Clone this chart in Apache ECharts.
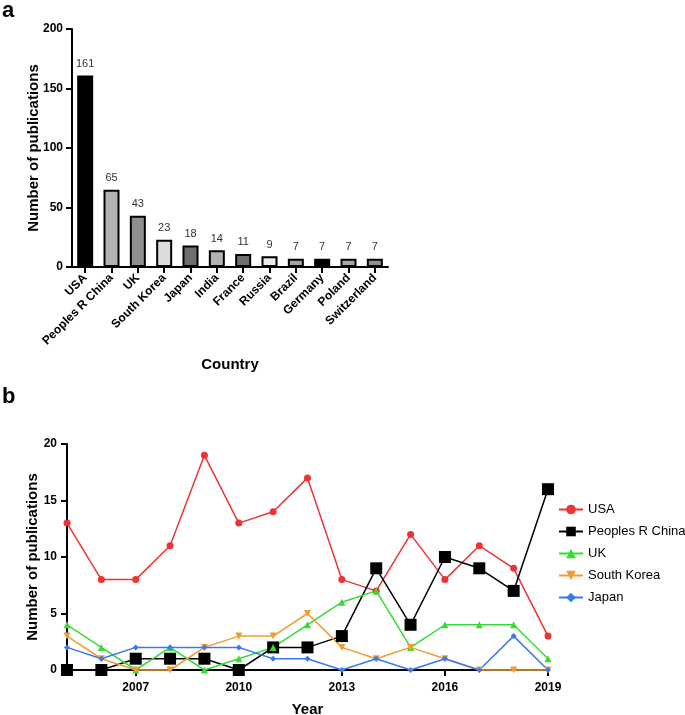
<!DOCTYPE html>
<html><head><meta charset="utf-8">
<script src="https://cdn.jsdelivr.net/npm/echarts@6/dist/echarts.min.js"></script>
<style>html,body{margin:0;padding:0;background:#fff}#c{width:685px;height:715px}</style>
</head><body><div id="c"></div>
<script>
const countries = ['USA','Peoples R China','UK','South Korea','Japan','India','France','Russia','Brazil','Germany','Poland','Switzerland'];
const countryCounts = [161,65,43,23,18,14,11,9,7,7,7,7];
const barFills = ['#000000','#b3b3b5','#8f8f8f','#dcdcdc','#6e6e6e','#b3b3b5','#6e6e6e','#ebebeb','#a6a6a6','#000000','#a6a6a6','#8f8f8f'];
const barTicks = [0,50,100,150,200];

const years = ['2005','2006','2007','2008','2009','2010','2011','2012','2013','2014','2015','2016','2017','2018','2019'];
const usa = [13,8,8,11,19,13,14,17,8,7,12,8,11,9,3];
const china = [0,0,1,1,1,0,2,2,3,9,4,10,9,7,16];
const uk = [4,2,0,2,0,1,2,4,6,7,2,4,4,4,1];
const southKorea = [3,1,0,0,2,3,3,5,2,1,2,1,0,0,0];
const japan = [2,1,2,2,2,2,1,1,0,1,0,1,0,3,0];
const lineTicks = [0,5,10,15,20];

const chart = echarts.init(document.getElementById('c'), null, {renderer:'canvas'});
const axisLine = {lineStyle:{color:'#000',width:2}};
const tickStyle = {show:true, length:6, lineStyle:{color:'#000',width:2}};
const boldLabel = {color:'#000', fontWeight:'bold', fontSize:12, fontFamily:'Liberation Sans, Arial, sans-serif'};
const nameStyle = {color:'#000', fontWeight:'bold', fontSize:15, fontFamily:'Liberation Sans, Arial, sans-serif'};

function mk(name, data, color, symbol, size){
  return {name, type:'line', xAxisIndex:1, yAxisIndex:1, data, symbol, symbolSize:size,
    lineStyle:{color, width:1.5}, itemStyle:{color}, clip:false, z:3};
}

chart.setOption({
  animation:false,
  graphic:[
    {type:'text', left:2, top:0, style:{text:'a', font:'bold 22px Liberation Sans, Arial, sans-serif', fill:'#000'}},
    {type:'text', left:2, top:386, style:{text:'b', font:'bold 22px Liberation Sans, Arial, sans-serif', fill:'#000'}}
  ],
  grid:[
    {left:72, right:297, top:29, bottom:448, outerBoundsMode:'none', containLabel:false},
    {left:67, right:137, top:444, bottom:45, outerBoundsMode:'none', containLabel:false}
  ],
  legend:{
    left:553, top:498, orient:'vertical', itemGap:9, itemWidth:24, itemHeight:12,
    textStyle:{color:'#000', fontSize:13, fontFamily:'Liberation Sans, Arial, sans-serif'},
    data:['USA','Peoples R China','UK','South Korea','Japan']
  },
  xAxis:[
    {gridIndex:0, type:'category', data:countries,
      axisLine, axisTick:{show:true, length:6, alignWithLabel:true, lineStyle:{color:'#000',width:2}},
      axisLabel:Object.assign({}, boldLabel, {rotate:45, interval:0, margin:9}),
      name:'Country', nameLocation:'middle', nameGap:90, nameMoveOverlap:false, nameTextStyle:nameStyle},
    {gridIndex:1, type:'category', data:years, boundaryGap:false,
      axisLine, axisTick:{show:true, length:6, interval:(i)=>(i-2)%3===0, lineStyle:{color:'#000',width:2}},
      axisLabel:Object.assign({}, boldLabel, {interval:(i)=>(i-2)%3===0, margin:12}),
      name:'Year', nameLocation:'middle', nameGap:32, nameMoveOverlap:false, nameTextStyle:nameStyle}
  ],
  yAxis:[
    {gridIndex:0, type:'value', min:barTicks[0], max:barTicks[barTicks.length-1], interval:50,
      axisLine:Object.assign({show:true},axisLine), axisTick:tickStyle, splitLine:{show:false},
      axisLabel:Object.assign({}, boldLabel, {margin:9}),
      name:'Number of publications', nameLocation:'middle', nameGap:31, nameMoveOverlap:false, nameTextStyle:nameStyle},
    {gridIndex:1, type:'value', min:lineTicks[0], max:lineTicks[lineTicks.length-1], interval:5,
      axisLine:Object.assign({show:true},axisLine), axisTick:tickStyle, splitLine:{show:false},
      axisLabel:Object.assign({}, boldLabel, {margin:10}),
      name:'Number of publications', nameLocation:'middle', nameGap:27, nameMoveOverlap:false, nameTextStyle:nameStyle}
  ],
  series:[
    {type:'bar', xAxisIndex:0, yAxisIndex:0, barWidth:16,
      data:countryCounts.map((v,i)=>({value:v, itemStyle:{color:barFills[i], borderColor:'#000', borderWidth:2}})),
      label:{show:true, position:'top', distance:6, color:'#333', fontSize:11, fontFamily:'Liberation Sans, Arial, sans-serif'}},
    mk('USA', usa, '#ee3333', 'circle', 7),
    mk('Peoples R China', china, '#000000', 'rect', 12),
    mk('UK', uk, '#33dd33', 'triangle', 7),
    mk('South Korea', southKorea, '#f09c30', 'path://M0,0 L10,0 L5,9 Z', 7),
    mk('Japan', japan, '#3a78f0', 'diamond', 6)
  ]
});
</script></body></html>
